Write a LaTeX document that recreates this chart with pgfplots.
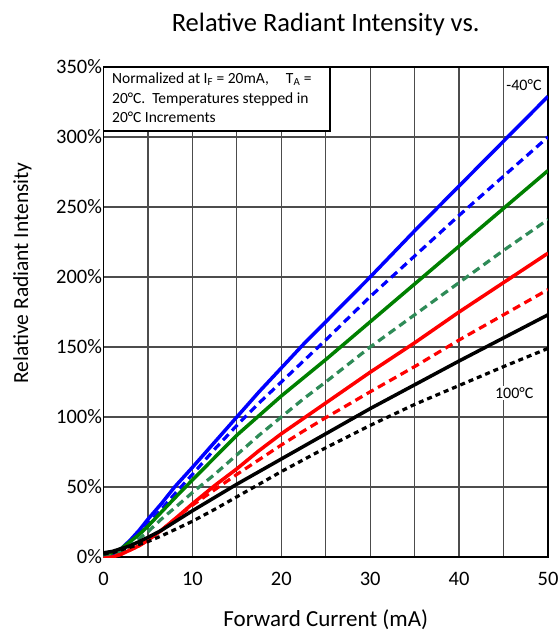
\documentclass[border=0pt]{standalone}
\usepackage{pgfplots}
\pgfplotsset{compat=1.18}
\usepackage{fontspec}
\setmainfont{Carlito}
\definecolor{seagrn}{RGB}{46,139,87}
\definecolor{grn}{RGB}{0,128,0}

\begin{document}
\begin{tikzpicture}
\begin{axis}[
    scale only axis, width=444.5pt, height=490pt,
    xmin=0, xmax=50, ymin=0, ymax=350,
    xtick={0,10,...,50}, minor xtick={5,15,...,45},
    ytick={0,50,...,350},
    yticklabel={\pgfmathprintnumber{\tick}\%},
    grid=both,
    major grid style={black!70, line width=1.3pt},
    minor grid style={black!70, line width=1.3pt},
    major tick length=0pt, minor tick length=0pt,
    axis line style={black, line width=1.5pt},
    tick label style={font=\fontsize{20.5}{24}\selectfont},
    /pgf/number format/assume math mode=true,
    xticklabel style={yshift=-12pt},
    yticklabel style={xshift=2pt},
    clip mode=individual,
]
% -40C
\addplot[blue, line width=3.5pt] coordinates {(0,0)(1,2)(2,6)(3,12)(4,19)(5,27)(6.5,38)(8,50)(10,64)(12.5,82)(15,100)(17.5,118)(20,135)(22.5,152)(25,168)(30,200)(35,233)(40,265)(45,297)(50,329)};
% -20C
\addplot[blue, line width=3.2pt, dash pattern=on 8pt off 5pt] coordinates {(0,0)(1,2)(2,5)(3,11)(4,17)(5,24)(6.5,34)(8,45)(10,59)(12.5,77)(15,94)(17.5,110)(20,125)(22.5,140)(25,155)(30,186)(35,215)(40,244)(45,272)(50,300)};
% 0C
\addplot[grn, line width=3.5pt] coordinates {(0,1)(1,3)(2,6)(3,11)(4,16)(5,22)(6.5,32)(8,42)(10,55)(12.5,71)(15,87)(17.5,101)(20,115)(22.5,128)(25,141)(30,168)(35,195)(40,222)(45,249)(50,276)};
% 20C
\addplot[seagrn, line width=3.2pt, dash pattern=on 8pt off 5pt] coordinates {(0,0)(1,1)(2,4)(3,8)(4,13)(5,18)(6.5,27)(8,35)(10,46)(12.5,59)(15,73)(17.5,87)(20,100)(22.5,113)(25,125)(30,150)(35,173)(40,196)(45,219)(50,241)};
% 40C
\addplot[red, line width=3.5pt] coordinates {(0,-1)(1,0)(2,2)(3,5)(4,8)(5,12)(6.5,19)(8,27)(10,38)(12.5,51)(15,63)(17.5,76)(20,88)(22.5,99)(25,110)(30,132)(35,153)(40,175)(45,196)(50,217)};
% 60C
\addplot[red, line width=3.2pt, dash pattern=on 8pt off 5pt] coordinates {(0,-1)(1,0)(2,2)(3,5)(4,8)(5,12)(6.5,19)(8,27)(10,37)(12.5,48)(15,59)(17.5,69.5)(20,80)(22.5,90)(25,99.5)(30,118)(35,136)(40,155)(45,173)(50,191)};
% 80C
\addplot[black, line width=3.5pt] coordinates {(0,3)(1,4)(2,6)(3,8)(4,11)(5,14)(6.5,19)(8,25)(10,33)(12.5,42.5)(15,52)(17.5,61)(20,70)(22.5,79)(25,88)(30,106)(35,123)(40,140)(45,156.5)(50,173)};
% 100C
\addplot[black, line width=3.2pt, dash pattern=on 5pt off 4pt] coordinates {(0,2)(1,3)(2,5)(3,7)(4,9)(5,11)(6.5,15)(8,19.5)(10,25.5)(12.5,34)(15,43)(17.5,52)(20,61)(22.5,69.5)(25,78)(30,94)(35,109)(40,122.5)(45,136)(50,149)};

\draw[black, line width=1.8pt, fill=white] (axis cs:0,350) rectangle (axis cs:25.5,304.3);
\node[anchor=north west, align=left, inner sep=0pt, font=\fontsize{15.5}{19.5}\selectfont]
  at (axis cs:0.95,346)
  {Normalized at I\textsubscript{F} = 20mA,\hspace{1.1em}T\textsubscript{A} =\\
   20°C.\ \ Temperatures stepped in\\
   20°C Increments};
\node[font=\fontsize{16}{19}\selectfont] at (axis cs:47.3,337) {-40°C};
\node[font=\fontsize{16}{19}\selectfont, fill=white, inner sep=1.5pt] at (axis cs:46.2,117) {100°C};
\end{axis}
\node[font=\fontsize{26.5}{30}\selectfont] at ([yshift=43pt]current axis.north) {Relative Radiant Intensity vs.};
\node[font=\fontsize{21.5}{25}\selectfont, rotate=90] at ([xshift=-81pt,yshift=39pt]current axis.west) {Relative Radiant Intensity};
\node[font=\fontsize{23}{27}\selectfont] at ([yshift=-63pt]current axis.south) {Forward Current (mA)};
\pgfresetboundingbox
\path ([xshift=-103.5pt,yshift=-78pt]current axis.south west) rectangle ([xshift=12pt,yshift=67pt]current axis.north east);
\end{tikzpicture}
\end{document}
